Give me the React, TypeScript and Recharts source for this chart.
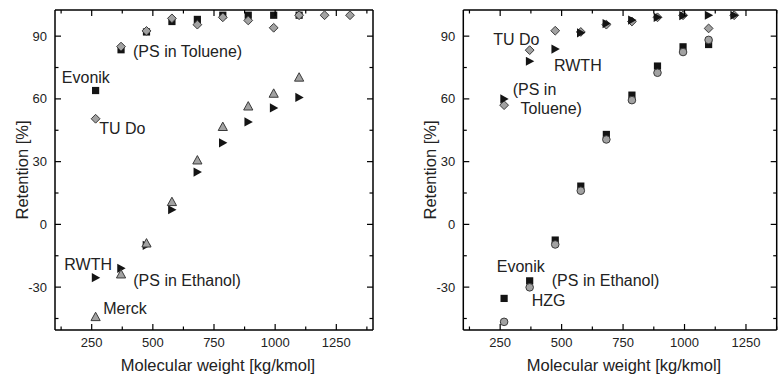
import React from 'react';
import { ScatterChart, Scatter, XAxis, YAxis, ReferenceDot } from 'recharts';

// ---------- data ----------
const xTicks = [125, 250, 375, 500, 625, 750, 875, 1000, 1125, 1250, 1375];
const yTicks = [-45, -30, -15, 0, 15, 30, 45, 60, 75, 90];

// Left panel
const lEvonikMW = [266, 370, 474, 578, 682, 786, 890, 994, 1098];
const lEvonikRet = [64, 83.5, 92, 97, 98, 100, 100, 100, 100];
const lTUDoMW = [266, 370, 474, 578, 682, 786, 890, 994, 1098, 1202, 1306];
const lTUDoRet = [50.5, 85, 92.5, 98.5, 95.5, 99, 97.5, 94, 100, 100, 100];
const lRWTHMW = [266, 370, 474, 578, 682, 786, 890, 994, 1098];
const lRWTHRet = [-25.5, -21, -10, 7, 25, 39, 49, 55.7, 60.7];
const lMerckMW = [266, 370, 474, 578, 682, 786, 890, 994, 1098];
const lMerckRet = [-44.2, -23.8, -9, 10.8, 30.7, 46.7, 56.5, 62.6, 70.3];

// Right panel
const rTUDoMW = [266, 370, 474, 578, 682, 786, 890, 994, 1098, 1202];
const rTUDoRet = [57, 83.3, 92.6, 92, 95.5, 97, 99, 100, 93.7, 100];
const rRWTHMW = [266, 370, 474, 578, 682, 786, 890, 994, 1098, 1202];
const rRWTHRet = [60, 78, 83.8, 91.6, 96, 97.7, 99, 99.8, 100, 100];
const rEvonikMW = [266, 370, 474, 578, 682, 786, 890, 994, 1098];
const rEvonikRet = [-35.4, -27, -7.5, 18.3, 43, 61.8, 75.7, 84.9, 86];
const rHZGMW = [266, 370, 474, 578, 682, 786, 890, 994, 1098];
const rHZGRet = [-46.6, -30.1, -9.6, 16.1, 40.6, 59.4, 72.5, 82.4, 88.2];

const lLabels = [
  { text: 'Evonik', mw: 128, ret: 67.5 },
  { text: '(PS in Toluene)', mw: 419, ret: 80 },
  { text: 'TU Do', mw: 281, ret: 43.2 },
  { text: 'RWTH', mw: 138, ret: -21.8 },
  { text: '(PS in Ethanol)', mw: 420, ret: -29.5 },
  { text: 'Merck', mw: 297, ret: -42.9 },
];
const rLabels = [
  { text: 'TU Do', mw: 222, ret: 85.7 },
  { text: 'RWTH', mw: 469, ret: 73.4 },
  { text: '(PS in', mw: 301, ret: 61.8 },
  { text: 'Toluene)', mw: 333, ret: 52.6 },
  { text: 'Evonik', mw: 236, ret: -22.9 },
  { text: '(PS in Ethanol)', mw: 460, ret: -29.5 },
  { text: 'HZG', mw: 378, ret: -39.1 },
];

const zip = (xs: number[], ys: number[]) => xs.map((x, i) => ({ mw: x, ret: ys[i] }));

// ---------- styles ----------
const FONT = '"Liberation Sans", Arial, Helvetica, sans-serif';
const GRAY = '#a2a2a2';
const EDGE = '#3a3a3a';
const BLACK = '#141414';

// ---------- marker shapes ----------
const Square = (p: any) => (
  <rect x={p.cx - 3.6} y={p.cy - 3.6} width={7.2} height={7.2} fill={BLACK} />
);
const Diamond = (p: any) => (
  <path
    d={`M${p.cx},${p.cy - 4.4}L${p.cx + 4.4},${p.cy}L${p.cx},${p.cy + 4.4}L${p.cx - 4.4},${p.cy}Z`}
    fill={GRAY}
    stroke={EDGE}
    strokeWidth={1}
  />
);
const TriRight = (p: any) => (
  <path
    d={`M${p.cx - 3.8},${p.cy - 4.6}L${p.cx + 4.6},${p.cy}L${p.cx - 3.8},${p.cy + 4.6}Z`}
    fill={BLACK}
  />
);
const TriUp = (p: any) => (
  <path
    d={`M${p.cx},${p.cy - 4.6}L${p.cx + 4.6},${p.cy + 3.8}L${p.cx - 4.6},${p.cy + 3.8}Z`}
    fill={GRAY}
    stroke={EDGE}
    strokeWidth={1}
  />
);
const Circle = (p: any) => (
  <circle cx={p.cx} cy={p.cy} r={3.8} fill={GRAY} stroke={EDGE} strokeWidth={1} />
);

// ---------- ticks ----------
const BottomTick = (props: any) => {
  const { x, y, payload } = props;
  const major = payload.value % 250 === 0;
  return (
    <g>
      <line x1={x} y1={y} x2={x} y2={y - (major ? 6 : 3.5)} stroke="#000" strokeWidth={1.2} />
      {major && (
        <text x={x} y={y + 17} textAnchor="middle" fontSize={13} fill="#222" fontFamily={FONT}>
          {payload.value}
        </text>
      )}
    </g>
  );
};
const TopTick = (props: any) => {
  const { x, y, payload } = props;
  const major = payload.value % 250 === 0;
  return <line x1={x} y1={y} x2={x} y2={y + (major ? 6 : 3.5)} stroke="#000" strokeWidth={1.2} />;
};
const LeftTick = (props: any) => {
  const { x, y, payload } = props;
  const major = payload.value % 30 === 0;
  return (
    <g>
      <line x1={x} y1={y} x2={x + (major ? 6 : 3.5)} y2={y} stroke="#000" strokeWidth={1.2} />
      {major && (
        <text x={x - 8} y={y} textAnchor="end" dominantBaseline="central" fontSize={13} fill="#222" fontFamily={FONT}>
          {payload.value}
        </text>
      )}
    </g>
  );
};
const RightTick = (props: any) => {
  const { x, y, payload } = props;
  const major = payload.value % 30 === 0;
  return <line x1={x} y1={y} x2={x - (major ? 6 : 3.5)} y2={y} stroke="#000" strokeWidth={1.2} />;
};

const XTitle = (props: any) => {
  const vb = props.viewBox;
  return (
    <text x={vb.x + vb.width / 2 + 4} y={vb.y + 41} textAnchor="middle" fontSize={16.5} fill="#222" fontFamily={FONT}>
      Molecular weight [kg/kmol]
    </text>
  );
};
const YTitle = (props: any) => {
  const vb = props.viewBox;
  const cx = vb.x + 11.5;
  const cy = vb.y + vb.height / 2;
  return (
    <text
      x={cx}
      y={cy}
      transform={`rotate(-90 ${cx} ${cy})`}
      textAnchor="middle"
      dominantBaseline="central"
      fontSize={16.5}
      fill="#222"
      fontFamily={FONT}
    >
      Retention [%]
    </text>
  );
};

const annot = (lbl: { text: string; mw: number; ret: number }, i: number) => (
  <ReferenceDot
    key={'a' + i}
    x={lbl.mw}
    y={lbl.ret}
    r={0}
    ifOverflow="visible"
    shape={(p: any) => (
      <text x={p.cx} y={p.cy} fontSize={16} fill="#222" fontFamily={FONT}>
        {lbl.text}
      </text>
    )}
  />
);

type Series = { data: { mw: number; ret: number }[]; shape: any; name: string };

const Panel = ({
  width,
  margin,
  xMax,
  series,
  labels,
}: {
  width: number;
  margin: any;
  xMax: number;
  series: Series[];
  labels: { text: string; mw: number; ret: number }[];
}) => (
  <ScatterChart width={width} height={375} margin={margin}>
    <XAxis
      type="number"
      dataKey="mw"
      domain={[100, xMax]}
      ticks={xTicks.filter((t) => t <= xMax)}
      interval={0}
      allowDataOverflow
      height={45}
      tickSize={0}
      tickMargin={0}
      tick={<BottomTick />}
      axisLine={{ stroke: '#000', strokeWidth: 1.5 }}
      label={<XTitle />}
    />
    <XAxis
      xAxisId="top"
      orientation="top"
      type="number"
      dataKey="mw"
      domain={[100, xMax]}
      ticks={xTicks.filter((t) => t <= xMax)}
      interval={0}
      allowDataOverflow
      height={1}
      tickSize={0}
      tickMargin={0}
      tick={<TopTick />}
      axisLine={{ stroke: '#000', strokeWidth: 1.5 }}
    />
    <YAxis
      type="number"
      dataKey="ret"
      domain={[-50.5, 102.5]}
      ticks={yTicks}
      interval={0}
      allowDataOverflow
      width={45}
      tickSize={0}
      tickMargin={0}
      tick={<LeftTick />}
      axisLine={{ stroke: '#000', strokeWidth: 1.5 }}
      label={<YTitle />}
    />
    <YAxis
      yAxisId="right"
      orientation="right"
      type="number"
      dataKey="ret"
      domain={[-50.5, 102.5]}
      ticks={yTicks}
      interval={0}
      allowDataOverflow
      width={1}
      tickSize={0}
      tickMargin={0}
      tick={<RightTick />}
      axisLine={{ stroke: '#000', strokeWidth: 1.5 }}
    />
    {series.map((s) => (
      <Scatter key={s.name} name={s.name} data={s.data} shape={s.shape} isAnimationActive={false} />
    ))}
    {labels.map(annot)}
  </ScatterChart>
);

export default function App() {
  return (
    <div
      style={{
        position: 'absolute',
        left: 0,
        top: 0,
        width: 782,
        height: 375,
        background: '#fff',
        display: 'flex',
      }}
    >
      <Panel
        width={390}
        margin={{ top: 9, right: 16, bottom: 0, left: 10 }}
        xMax={1400}
        series={[
          { name: 'Evonik', data: zip(lEvonikMW, lEvonikRet), shape: Square },
          { name: 'TU Do', data: zip(lTUDoMW, lTUDoRet), shape: Diamond },
          { name: 'RWTH', data: zip(lRWTHMW, lRWTHRet), shape: TriRight },
          { name: 'Merck', data: zip(lMerckMW, lMerckRet), shape: TriUp },
        ]}
        labels={lLabels}
      />
      <Panel
        width={392}
        margin={{ top: 9, right: 4.3, bottom: 0, left: 28.3 }}
        xMax={1375}
        series={[
          { name: 'TU Do', data: zip(rTUDoMW, rTUDoRet), shape: Diamond },
          { name: 'RWTH', data: zip(rRWTHMW, rRWTHRet), shape: TriRight },
          { name: 'Evonik', data: zip(rEvonikMW, rEvonikRet), shape: Square },
          { name: 'HZG', data: zip(rHZGMW, rHZGRet), shape: Circle },
        ]}
        labels={rLabels}
      />
    </div>
  );
}
